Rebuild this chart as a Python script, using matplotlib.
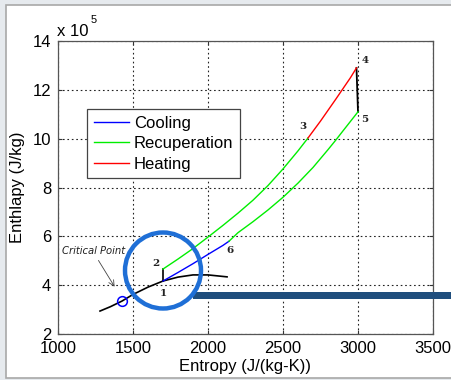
import matplotlib
matplotlib.use("Agg")
import matplotlib.pyplot as plt
from matplotlib.patches import Rectangle, Ellipse

# ---- data (enthalpy in units of 1e5 J/kg, entropy in J/(kg-K)) ----
dome_s = [1280, 1350, 1427, 1500, 1600, 1700, 1800, 1900, 2000, 2127]
dome_h = [2.94, 3.12, 3.35, 3.62, 3.92, 4.17, 4.33, 4.42, 4.42, 4.34]

cool_s = [1700, 1800, 1900, 2000, 2100, 2140]
cool_h = [4.17, 4.52, 4.88, 5.26, 5.63, 5.80]

recup_hi_s = [1700, 1800, 1900, 2000, 2100, 2200, 2300, 2400, 2500, 2600, 2667]
recup_hi_h = [4.66, 5.07, 5.50, 5.97, 6.45, 6.95, 7.48, 8.08, 8.76, 9.50, 10.03]

recup_lo_s = [3000, 2900, 2853, 2800, 2700, 2600, 2500, 2400, 2300, 2200, 2140]
recup_lo_h = [11.10, 10.32, 9.95, 9.55, 8.82, 8.18, 7.60, 7.08, 6.60, 6.15, 5.80]

heat_s = [2667, 2750, 2850, 2950, 2990]
heat_h = [10.03, 10.72, 11.60, 12.50, 12.90]

comp_s = [1700, 1700]
comp_h = [4.17, 4.66]

turb_s = [2990, 3000]
turb_h = [12.90, 11.10]

crit_s = [1427]
crit_h = [3.35]

point_labels = ["1", "2", "3", "4", "5", "6"]
point_s = [1700, 1653, 2633, 3047, 3047, 2147]
point_h = [3.64, 4.90, 10.48, 13.20, 10.77, 5.40]

xticks = [1000, 1500, 2000, 2500, 3000, 3500]
yticks = [2, 4, 6, 8, 10, 12, 14]

W, H = 452, 380
fig = plt.figure(figsize=(W / 100, H / 100), dpi=100)
fig.patch.set_facecolor("#e6eaee")
fig.patches.append(Rectangle((6.5 / W, (H - 378) / H), 1, (378 - 4.5) / H,
                             transform=fig.transFigure, facecolor="white",
                             edgecolor="#a8a8a8", linewidth=1.2, zorder=-5))

ax = fig.add_axes([58 / W, (H - 334) / H, 375 / W, 293 / H])
ax.set_zorder(1)
ax.set_facecolor("white")
font = "Liberation Sans"
lw = 1.0

ax.plot(dome_s, dome_h, color="black", lw=lw + 0.2)
ax.plot(comp_s, comp_h, color="black", lw=lw + 0.2)
ax.plot(turb_s, turb_h, color="black", lw=lw + 0.3)
l1, = ax.plot(cool_s, cool_h, color="blue", lw=lw, label="Cooling")
l2, = ax.plot(recup_hi_s, recup_hi_h, color="#00ee00", lw=lw, label="Recuperation")
ax.plot(recup_lo_s, recup_lo_h, color="#00ee00", lw=lw)
l3, = ax.plot(heat_s, heat_h, color="red", lw=lw, label="Heating")
ax.plot(crit_s, crit_h, marker="o", mfc="none", mec="blue", ms=7, mew=1.1, ls="none")

for t, sx, hy in zip(point_labels, point_s, point_h):
    ax.text(sx, hy, t, family="DejaVu Serif", fontweight="bold", fontsize=7.5,
            ha="center", va="center", color="#222222")

ax.annotate("", xy=(1387, 3.84), xytext=(1260, 5.11),
            arrowprops=dict(arrowstyle="->", color="#444444", lw=0.6))
ax.text(1027, 5.40, "Critical Point", family="DejaVu Sans", style="italic",
        fontsize=7.2, ha="left", va="center", color="#222222")

ax.set_xlim(1000, 3500)
ax.set_ylim(2, 14)
ax.set_xticks(xticks)
ax.set_yticks(yticks)
ax.set_xticklabels([str(v) for v in xticks], family=font, fontsize=12)
ax.set_yticklabels([str(v) for v in yticks], family=font, fontsize=12)
ax.tick_params(direction="in", length=3, width=0.8, top=True, right=True,
               color="#333333", pad=5)
ax.grid(True, color="#222222", linestyle=(0, (1.5, 2.5)), linewidth=0.8)
for sp in ax.spines.values():
    sp.set_color("#555555")
    sp.set_linewidth(0.9)

ax.set_xlabel("Entropy (J/(kg-K))", family=font, fontsize=12, labelpad=2)
ax.set_ylabel("Enthlapy (J/kg)", family=font, fontsize=12, labelpad=5)

fig.text(57 / W, 1 - 31 / H, "x 10", family=font, fontsize=12, ha="left", va="center")
fig.text(91 / W, 1 - 20 / H, "5", family=font, fontsize=8, ha="left", va="center")

leg = ax.legend(handles=[l1, l2, l3], loc="upper left",
                bbox_to_anchor=((87 - 58) / 375, (334 - 109) / 293),
                borderaxespad=0, prop={"family": font, "size": 12},
                frameon=True, fancybox=False, framealpha=1, edgecolor="#444444",
                handlelength=2.1, handletextpad=0.3, labelspacing=0.33,
                borderpad=0.4)
leg.get_frame().set_linewidth(0.9)

# highlight circle and bar (figure-pixel overlay)
fig.patches.append(Rectangle((193 / W, (H - 298.5) / H), (W - 193) / W, 7 / H,
                             transform=fig.transFigure, facecolor="#1f4e7d",
                             edgecolor="none", zorder=5))
fig.patches.append(Ellipse((163 / W, 1 - 270.5 / H), 76 / W, 76 / H,
                           transform=fig.transFigure, facecolor="none",
                           edgecolor="#1f6fd6", linewidth=3.2, zorder=6))

fig.savefig("out.png", dpi=100, facecolor=fig.get_facecolor())
